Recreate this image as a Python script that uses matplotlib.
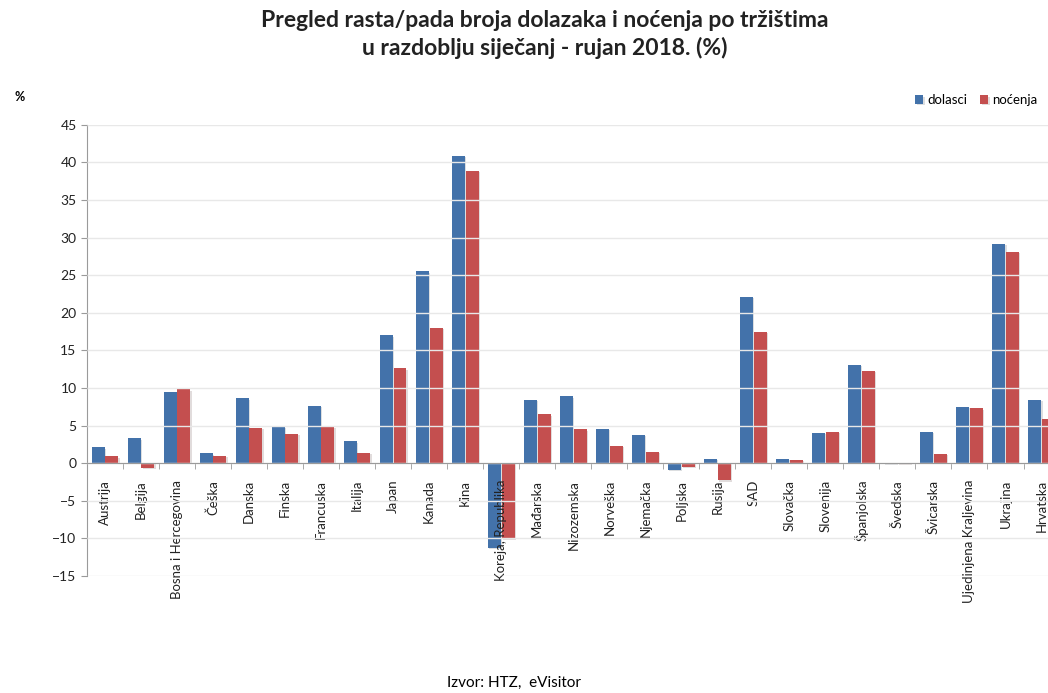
import matplotlib.pyplot as plt
import matplotlib.patheffects as pe
import numpy as np

plt.rcParams['font.family'] = ['Lato', 'DejaVu Sans']

markets = ['Austrija', 'Belgija', 'Bosna i Hercegovina', 'Češka', 'Danska', 'Finska',
           'Francuska', 'Italija', 'Japan', 'Kanada', 'Kina', 'Koreja, Republika',
           'Mađarska', 'Nizozemska', 'Norveška', 'Njemačka', 'Poljska', 'Rusija',
           'SAD', 'Slovačka', 'Slovenija', 'Španjolska', 'Švedska', 'Švicarska',
           'Ujedinjena Kraljevina', 'Ukrajina', 'Hrvatska']
dolasci = [2.1, 3.3, 9.5, 1.3, 8.6, 4.8, 7.6, 2.9, 17.0, 25.5, 40.9, -11.3,
           8.4, 8.9, 4.6, 3.8, -0.9, 0.6, 22.1, 0.6, 4.0, 13.1, -0.1, 4.2,
           7.5, 29.2, 8.4]
nocenja = [0.9, -0.6, 9.8, 1.0, 4.7, 3.9, 4.8, 1.4, 12.6, 18.0, 38.9, -10.1,
           6.5, 4.5, 2.3, 1.5, -0.5, -2.3, 17.5, 0.4, 4.2, 12.3, -0.1, 1.2,
           7.3, 28.1, 5.9]
yticks = list(range(-15, 50, 5))

blue = '#4372AA'
red = '#C44F4F'

fig = plt.figure(figsize=(10.48, 6.93), dpi=100)
# axes run a little past the right edge, like the cropped original
ax = fig.add_axes([0.083, 0.169, 0.928, 0.651])

x = np.arange(len(markets))
w = 0.36
shadow = [pe.SimplePatchShadow(offset=(1, -1), alpha=0.15), pe.Normal()]
b1 = ax.bar(x - w / 2 - 0.01, dolasci, w, color=blue, label='dolasci', zorder=2)
b2 = ax.bar(x + w / 2 + 0.01, nocenja, w, color=red, label='noćenja', zorder=2)
for p in list(b1) + list(b2):
    p.set_path_effects(shadow)

ax.set_xlim(-0.5, len(markets) - 0.5)
ax.set_ylim(-15, 45)
ax.set_yticks(yticks)
ax.yaxis.grid(True, color='#E8E8E8', linewidth=1, zorder=0)
ax.set_axisbelow(False)

for s in ['top', 'right']:
    ax.spines[s].set_visible(False)
ax.spines['left'].set_color('#9A9A9A')
ax.spines['bottom'].set_color('#9A9A9A')
ax.spines['bottom'].set_position(('data', 0))
ax.spines['bottom'].set_zorder(3)

ax.set_xticks(x)
ax.set_xticklabels(markets, rotation=90, fontsize=9.5, color='#222222')
ax.set_xticks(x[:-1] + 0.5, minor=True)
ax.tick_params(axis='x', which='major', length=0, pad=12)
ax.tick_params(axis='x', which='minor', length=4, color='#9A9A9A', direction='out')
ax.tick_params(axis='y', length=4, color='#9A9A9A', labelsize=10, labelcolor='#222222')
for lbl in ax.get_xticklabels():
    lbl.set_verticalalignment('top')

fig.text(0.52, 0.971, 'Pregled rasta/pada broja dolazaka i noćenja po tržištima',
         ha='center', va='center', fontsize=16.5, fontweight='bold', color='#222222')
fig.text(0.52, 0.931, 'u razdoblju siječanj - rujan 2018. (%)',
         ha='center', va='center', fontsize=16.5, fontweight='bold', color='#222222')
fig.text(0.014, 0.86, '%', ha='left', va='center', fontsize=9, fontweight='bold')
fig.text(0.49, 0.014, 'Izvor: HTZ,  eVisitor', ha='center', va='center', fontsize=11)

ax.legend(loc='upper right', bbox_to_anchor=(0.995, 0.872), bbox_transform=fig.transFigure,
          ncol=2, frameon=False, fontsize=9.5, handlelength=0.6, handleheight=0.6,
          handletextpad=0.3, columnspacing=1.0, borderaxespad=0)

fig.savefig('out.png', dpi=100, facecolor='white')
